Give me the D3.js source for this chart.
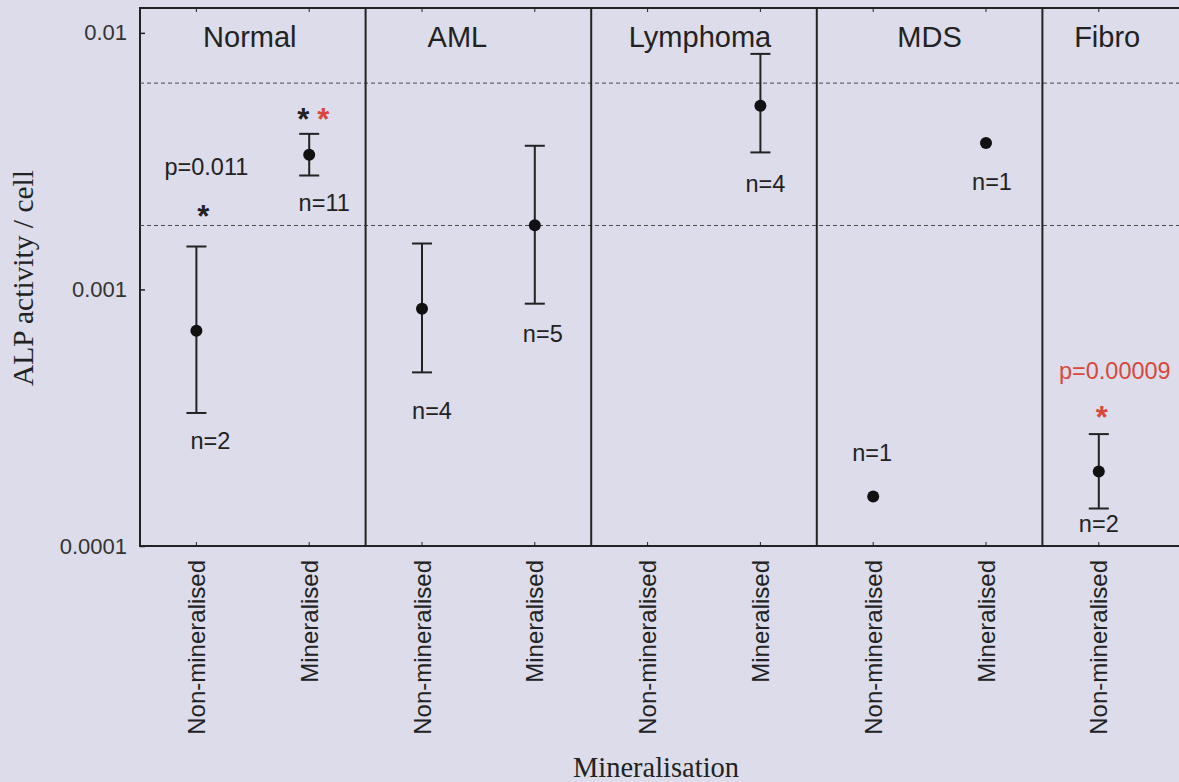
<!DOCTYPE html>
<html>
<head>
<meta charset="utf-8">
<script src="https://cdn.jsdelivr.net/npm/d3@7"></script>
<style>
  body { margin: 0; background: #dcdcea; }
  svg { display: block; }
</style>
</head>
<body>
<svg id="chart" width="1179" height="782"></svg>
<script>
// ALP activity per cell, grouped by diagnosis and mineralisation
const groups = ["Normal", "AML", "Lymphoma", "MDS", "Fibro"];
const conditions = ["Non-mineralised", "Mineralised"];

// one entry per group x condition, in order (null = no data)
const means = [0.00069, 0.00335, 0.00084, 0.00178, null, 0.0052, 0.000156, 0.00372, 0.000195, null];
const upper = [0.00147, 0.00404, 0.00151, 0.00363, null, 0.00828, null, null, 0.000273, null];
const lower = [0.00033, 0.00278, 0.000475, 0.00088, null, 0.00342, null, null, 0.00014, null];

const yTicks = [0.01, 0.001, 0.0001];
const yTickLabels = ["0.01", "0.001", "0.0001"];
const refLines = [0.00637, 0.001775];

// title nudges (px) from the group centre
const titleDx = [-3, -21, -4, 0, -48];

// annotation text anchored to a category and a value
const nLabels = [
  {cat: 0, text: "n=2", at: 0.000238, dx: 14},
  {cat: 1, text: "n=11", at: 0.00203, dx: 15},
  {cat: 2, text: "n=4", at: 0.000312, dx: 10},
  {cat: 3, text: "n=5", at: 0.000622, dx: 8},
  {cat: 5, text: "n=4", at: 0.0024, dx: 5},
  {cat: 6, text: "n=1", at: 0.000214, dx: -1},
  {cat: 7, text: "n=1", at: 0.00245, dx: 6},
  {cat: 8, text: "n=2", at: 0.000113, dx: 0}
];
const pLabels = [
  {cat: 0, text: "p=0.011", at: 0.0028, dx: 10, red: false},
  {cat: 8, text: "p=0.00009", at: 0.000447, dx: 16, red: true}
];
const stars = [
  {cat: 0, at: 0.002065, dx: 7, red: false},
  {cat: 1, at: 0.00493, dx: -6, red: false},
  {cat: 1, at: 0.00493, dx: 14, red: true},
  {cat: 8, at: 0.000341, dx: 3, red: true}
];

const RED = "#d8483c";
const INK = "#222";
const sans = "'Liberation Sans', Arial, sans-serif";
const serif = "'Liberation Serif', 'Times New Roman', serif";

const cats = [];
groups.forEach(g => conditions.forEach(c => cats.push(g + "|" + c)));

const svg = d3.select("#chart");
const plotL = 140, plotR = 1268, plotT = 8, plotB = 546;
const W = +svg.attr("width");

const x = d3.scaleBand().domain(cats).range([plotL, plotR]).padding(0);
const cx = i => x(cats[i]) + x.bandwidth() / 2;
const y = d3.scaleLog().domain([0.0001, 0.0125]).range([plotB, plotT]);
// only the categories that fall inside the picture get a tick
const shownCats = cats.filter(c => x(c) + x.bandwidth() / 2 < W);

// frame
svg.append("rect")
  .attr("x", plotL).attr("y", plotT)
  .attr("width", plotR - plotL).attr("height", plotB - plotT)
  .attr("fill", "none").attr("stroke", INK).attr("stroke-width", 2);

// reference dashed lines
svg.append("g").selectAll("line")
  .data(refLines).enter().append("line")
  .attr("x1", plotL).attr("x2", plotR)
  .attr("y1", d => y(d)).attr("y2", d => y(d))
  .attr("stroke", "#4a4a4a").attr("stroke-width", 1)
  .attr("stroke-dasharray", "4,3");

// panel dividers
svg.append("g").selectAll("line")
  .data(groups.slice(1)).enter().append("line")
  .attr("x1", d => x(d + "|" + conditions[0]))
  .attr("x2", d => x(d + "|" + conditions[0]))
  .attr("y1", plotT).attr("y2", plotB)
  .attr("stroke", INK).attr("stroke-width", 2);

// panel titles
svg.append("g").selectAll("text")
  .data(groups).enter().append("text")
  .attr("x", (d, i) => x(d + "|" + conditions[0]) + x.bandwidth() + titleDx[i])
  .attr("y", 47)
  .attr("text-anchor", "middle")
  .attr("font-family", sans).attr("font-size", 29)
  .attr("fill", INK)
  .text(d => d);

// y axis
const yAxis = svg.append("g")
  .attr("transform", `translate(${plotL},0)`)
  .call(d3.axisLeft(y).tickValues(yTicks).tickSize(-5)
    .tickFormat((d, i) => yTickLabels[i]));
yAxis.attr("font-size", null).attr("font-family", null);
yAxis.select(".domain").remove();
yAxis.selectAll("line").attr("stroke", INK).attr("stroke-width", 1.5);
yAxis.selectAll("text")
  .attr("x", -13)
  .style("font-family", sans).style("font-size", "22px").attr("fill", "#333");

// top ticks
const topAxis = svg.append("g")
  .attr("transform", `translate(0,${plotT})`)
  .call(d3.axisTop(x).tickValues(shownCats).tickSize(-4).tickFormat(""));
topAxis.select(".domain").remove();
topAxis.selectAll("line").attr("stroke", INK);

// bottom axis
const xAxis = svg.append("g")
  .attr("transform", `translate(0,${plotB})`)
  .call(d3.axisBottom(x).tickValues(shownCats).tickSize(-4)
    .tickFormat(d => d.split("|")[1]));
xAxis.attr("font-size", null).attr("font-family", null);
xAxis.select(".domain").remove();
xAxis.selectAll("line").attr("stroke", INK);
xAxis.selectAll("text")
  .attr("transform", "rotate(-90)")
  .attr("text-anchor", "end")
  .attr("x", -14).attr("y", 0)
  .attr("dy", "0.36em")
  .style("font-family", sans).style("font-size", "24px").attr("fill", INK);

// error bars
const bars = d3.range(cats.length).filter(i => upper[i] != null);
const eb = svg.append("g").attr("stroke", INK).attr("stroke-width", 2);
eb.selectAll(".stem").data(bars).enter().append("line")
  .attr("x1", cx).attr("x2", cx)
  .attr("y1", i => y(upper[i])).attr("y2", i => y(lower[i]));
eb.selectAll(".capU").data(bars).enter().append("line")
  .attr("x1", i => cx(i) - 10).attr("x2", i => cx(i) + 10)
  .attr("y1", i => y(upper[i])).attr("y2", i => y(upper[i]));
eb.selectAll(".capL").data(bars).enter().append("line")
  .attr("x1", i => cx(i) - 10).attr("x2", i => cx(i) + 10)
  .attr("y1", i => y(lower[i])).attr("y2", i => y(lower[i]));

// mean points
svg.append("g").selectAll("circle")
  .data(d3.range(cats.length).filter(i => means[i] != null))
  .enter().append("circle")
  .attr("cx", cx).attr("cy", i => y(means[i]))
  .attr("r", 6).attr("fill", "#111");

// n labels
svg.append("g").selectAll("text")
  .data(nLabels).enter().append("text")
  .attr("x", d => cx(d.cat) + d.dx).attr("y", d => y(d.at))
  .attr("text-anchor", "middle")
  .attr("font-family", sans).attr("font-size", 23.5).attr("fill", INK)
  .text(d => d.text);

// p values
svg.append("g").selectAll("text")
  .data(pLabels).enter().append("text")
  .attr("x", d => cx(d.cat) + d.dx).attr("y", d => y(d.at))
  .attr("text-anchor", "middle")
  .attr("font-family", sans).attr("font-size", 23.5)
  .attr("fill", d => d.red ? RED : INK)
  .text(d => d.text);

// significance stars
svg.append("g").selectAll("text")
  .data(stars).enter().append("text")
  .attr("x", d => cx(d.cat) + d.dx).attr("y", d => y(d.at))
  .attr("dy", "0.6em")
  .attr("text-anchor", "middle")
  .attr("font-family", sans).attr("font-size", 31).attr("font-weight", "bold")
  .attr("fill", d => d.red ? RED : INK)
  .text("*");

// axis titles
svg.append("text")
  .attr("transform", "translate(33,278) rotate(-90)")
  .attr("text-anchor", "middle")
  .attr("font-family", serif).attr("font-size", 29.5).attr("fill", INK)
  .text("ALP activity / cell");

svg.append("text")
  .attr("x", 656).attr("y", 777)
  .attr("text-anchor", "middle")
  .attr("font-family", serif).attr("font-size", 28.5).attr("fill", INK)
  .text("Mineralisation");
</script>
</body>
</html>
